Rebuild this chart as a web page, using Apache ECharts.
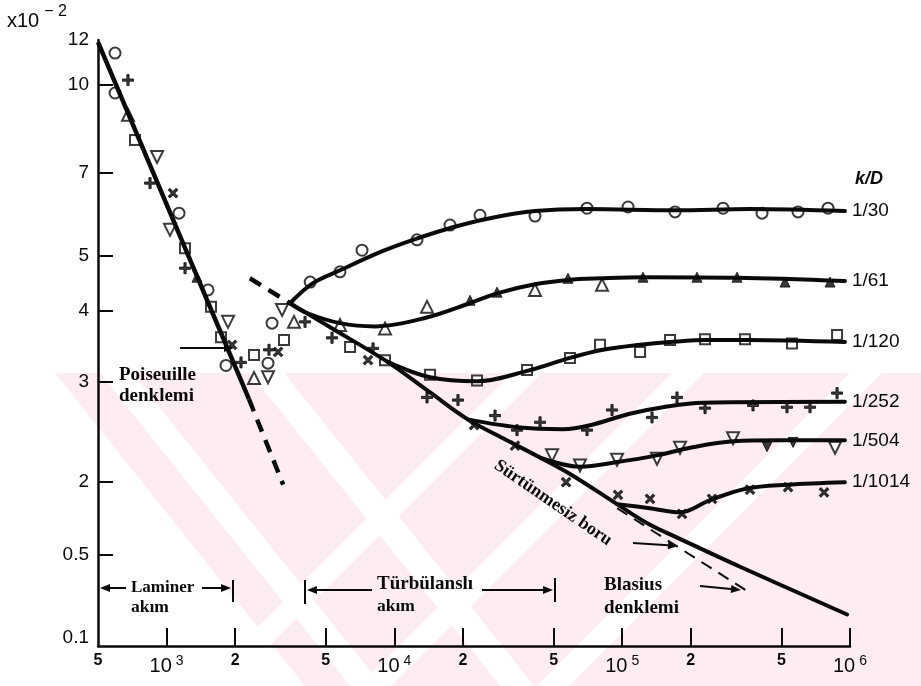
<!DOCTYPE html>
<html>
<head>
<meta charset="utf-8">
<title>Nikuradse – k/D</title>
<script src="https://cdn.jsdelivr.net/npm/echarts@6/dist/echarts.min.js"></script>
<style>
  html, body { margin: 0; padding: 0; background: #fff; }
  #chart { width: 921px; height: 686px; }
</style>
</head>
<body>
<div id="chart"></div>
<script>
// ---- Axis ticks ----
const xTickValues = [500, 1000, 2000, 5000, 10000, 20000, 50000, 100000, 200000, 500000, 1000000];
const xTickLabels = ['5', '10 3', '2', '5', '10 4', '2', '5', '10 5', '2', '5', '10 6'];
const yTickValues = [12, 10, 7, 5, 4, 3, 2, 1.49, 1.067];
const yTickLabels = ['12', '10', '7', '5', '4', '3', '2', '0.5', '0.1'];
const yTickMarks = [10, 7, 5, 4, 3, 2, 1.49];

// ---- Reference lines (Re, λ·10²) ----
const laminarSolid = [[500, 11.9], [2300, 2.8]];
const laminarDashed = [[2300, 2.8], [3250, 1.98]];
const smoothDashed = [[2320, 4.57], [3480, 4.13]];
const smoothPipe = [[3480, 4.13], [5270, 3.74], [9290, 3.26], [14300, 2.88], [21000, 2.58], [30000, 2.39],
  [43600, 2.21], [60000, 2.06], [94900, 1.83], [130000, 1.69], [179000, 1.59], [329000, 1.42], [971000, 1.17]];
const blasius = [[95000, 1.80], [350000, 1.29]];

// ---- Rough pipe curves ----
const r30Line = [[3480, 4.13], [4390, 4.48], [5770, 4.72], [8650, 5.08], [12070, 5.34], [18090, 5.62], [26290, 5.83],
  [41430, 6.00], [70100, 6.05], [170600, 6.02], [364100, 6.05], [950000, 6.00]];
const r61Line = [[3480, 4.13], [4135, 3.97], [5770, 3.81], [8225, 3.76], [13630, 3.89], [21460, 4.13], [28200, 4.30],
  [41400, 4.46], [57800, 4.54], [81500, 4.57], [123000, 4.59], [319000, 4.58], [950000, 4.52]];
const r120Line = [[9290, 3.26], [14340, 3.06], [23060, 3.01], [38220, 3.14], [59020, 3.31], [82390, 3.42],
  [119800, 3.49], [162200, 3.53], [235700, 3.56], [353200, 3.56], [950000, 3.53]];
const r252Line = [[21000, 2.58], [34540, 2.50], [55000, 2.48], [72200, 2.52], [108000, 2.64], [151000, 2.71],
  [226000, 2.76], [950000, 2.77]];
const r504Line = [[43600, 2.21], [65300, 2.13], [94900, 2.17], [142000, 2.23], [199000, 2.30], [307000, 2.36],
  [493000, 2.37], [950000, 2.37]];
const r1014Line = [[94900, 1.83], [132000, 1.80], [179000, 1.77], [243000, 1.86], [353000, 1.95], [529000, 1.98],
  [950000, 2.00]];

// ---- Measured points ----
const pts30 = [[594, 11.38], [594, 9.68], [1134, 5.95], [1520, 4.36], [1823, 3.21], [2788, 3.24], [2903, 3.81],
  [4270, 4.50], [5772, 4.69], [7210, 5.12], [12570, 5.34], [17550, 5.67], [23760, 5.90], [41430, 5.88],
  [70100, 6.07], [106100, 6.10], [170600, 5.98], [277100, 6.07], [411000, 5.95], [591400, 5.98], [801000, 6.07]];
const pts61 = [[677, 8.86], [2420, 3.05], [3626, 3.83], [5772, 3.78], [9096, 3.73], [13910, 4.07], [41430, 4.36],
  [81560, 4.45]];
const pts61Filled = [[1360, 4.59], [21480, 4.18], [28220, 4.32], [57830, 4.57], [123400, 4.59], [213000, 4.59],
  [319300, 4.59], [518400, 4.50], [817300, 4.50]];
const pts120 = [[727, 8.00], [1205, 5.16], [1567, 4.07], [1734, 3.60], [2420, 3.35], [3277, 3.56],
  [6388, 3.46], [9096, 3.28], [14340, 3.09], [23060, 3.02], [38220, 3.15], [59020, 3.31], [79930, 3.49],
  [119800, 3.39], [162200, 3.56], [231000, 3.57], [346100, 3.57], [556600, 3.51], [877400, 3.63]];
const pts252 = [[677, 10.2], [846, 6.72], [1205, 4.76], [2122, 3.25], [2816, 3.42], [4053, 3.83], [5324, 3.59],
  [8060, 3.44], [13910, 2.82], [19020, 2.79], [27660, 2.62], [34540, 2.47], [43590, 2.55], [70100, 2.47],
  [90240, 2.68], [135200, 2.60], [174000, 2.82], [231000, 2.70], [375200, 2.73], [529000, 2.71], [667500, 2.71],
  [877400, 2.87]];
const pts504 = [[908, 7.47], [1035, 5.56], [1861, 3.83], [2788, 3.06], [3212, 4.02], [49200, 2.23], [65290, 2.14],
  [94900, 2.19], [142200, 2.20], [179400, 2.30], [306600, 2.39], [859800, 2.30]];
const pts504Filled = [[432300, 2.31], [562300, 2.35]];
const pts1014 = [[1067, 6.45], [1938, 3.49], [3085, 3.39], [7661, 3.28], [22370, 2.52], [33850, 2.32],
  [56690, 2.00], [95860, 1.90], [132500, 1.87], [183100, 1.76], [248000, 1.87], [364100, 1.94], [534600, 1.96],
  [769100, 1.92]];

const seriesNames = ['1/30', '1/61', '1/120', '1/252', '1/504', '1/1014'];

// ---- Styles ----
const INK = '#0a0a0a';
const SANS = '"Liberation Sans", Arial, Helvetica, sans-serif';
const SERIF = '"Liberation Serif", "Times New Roman", serif';
const CROSS = 'path://M4,0H6V4H10V6H6V10H4V6H0V4H4Z';
const openMark = { color: '#fff', borderColor: INK, borderWidth: 2 };
const solidMark = { color: INK, borderColor: INK, borderWidth: 1 };
const TINT = '#fdedf0';

function nearestLabel(values, labels, v) {
  let best = 0;
  for (let i = 1; i < values.length; i++) {
    if (Math.abs(Math.log(values[i]) - Math.log(v)) < Math.abs(Math.log(values[best]) - Math.log(v))) best = i;
  }
  return labels[best];
}

function curve(name, data, opts) {
  return Object.assign({
    name: name, type: 'line', data: data, symbol: 'none', smooth: 0.35, z: 4,
    lineStyle: { color: INK, width: 4, cap: 'round', join: 'round' },
    silent: true, animation: false
  }, opts || {});
}
function endTag(name) {
  return { show: true, formatter: name, distance: 7, color: INK, fontSize: 19, fontFamily: SANS };
}
function marks(name, data, symbol, style, size, rotate) {
  return {
    name: name, type: 'scatter', data: data, symbol: symbol, symbolSize: size,
    symbolRotate: rotate || 0, itemStyle: style, z: 3, silent: true, animation: false
  };
}

// ---- Annotation helpers ----
function arrow(x1, y1, x2, y2) {
  const a = Math.atan2(y2 - y1, x2 - x1), L = 10, W = 4;
  const bx = x2 - L * Math.cos(a), by = y2 - L * Math.sin(a);
  return [
    { type: 'line', z: 10, shape: { x1: x1, y1: y1, x2: bx, y2: by }, style: { stroke: INK, lineWidth: 2 } },
    { type: 'polygon', z: 10, shape: { points: [[x2, y2], [bx - W * Math.sin(a), by + W * Math.cos(a)], [bx + W * Math.sin(a), by - W * Math.cos(a)]] },
      style: { fill: INK } }
  ];
}
function bar(x, y1, y2) {
  return { type: 'line', z: 10, shape: { x1: x, y1: y1, x2: x, y2: y2 }, style: { stroke: INK, lineWidth: 2 } };
}
function note(text, x, y, size) {
  return {
    type: 'text', z: 10, x: x, y: y,
    style: { text: text, fill: INK, fontSize: size || 18, fontFamily: SERIF, fontWeight: 'bold',
      align: 'left', verticalAlign: 'middle' }
  };
}
// faint background tint with diagonal white stripes
function quad(pts, fill) {
  return { type: 'polygon', z: -6, silent: true, shape: { points: pts }, style: { fill: fill } };
}
function stripe(xTop, width, slope) {
  const y0 = 373, y1 = 686, d = slope * (y1 - y0);
  return quad([[xTop, y0], [xTop + width, y0], [xTop + width + d, y1], [xTop + d, y1]], '#fff');
}
const backdrop = [
  quad([[55, 373], [921, 373], [921, 686], [305, 686]], TINT),
  stripe(100, 32, 0.8), stripe(250, 34, 0.8),
  stripe(512, 30, -1), stripe(672, 32, -1), stripe(850, 32, -1)
];

const graphics = [].concat(
  backdrop,
  [
    { type: 'text', z: 10, x: 7, y: 2, style: { text: '{a|x10}{b|− 2}', fill: INK,
      rich: { a: { fontSize: 20, fontFamily: SANS, padding: [9, 0, 0, 0] }, b: { fontSize: 16, fontFamily: SANS, padding: [0, 0, 9, 5] } } } },
    { type: 'text', z: 10, x: 855, y: 179, style: { text: 'k/D', fill: INK, fontSize: 18, fontFamily: SANS,
      fontStyle: 'italic', fontWeight: 'bold', verticalAlign: 'middle' } },
    note('Poiseuille', 119, 375, 19), note('denklemi', 119, 396, 19),
    note('Laminer', 131, 588, 17), note('akım', 131, 607, 17.5),
    note('Türbülanslı', 377, 584, 19), note('akım', 377, 606, 17.5),
    note('Blasius', 604, 585, 19), note('denklemi', 604, 608, 19),
    { type: 'text', z: 10, x: 553, y: 503, rotation: -0.6,
      style: { text: 'Sürtünmesiz boru', fill: INK, fontSize: 18, fontFamily: SERIF, fontWeight: 'bold',
        align: 'center', verticalAlign: 'middle' } }
  ],
  arrow(180, 348, 234, 348),
  arrow(126, 588, 100, 588), arrow(202, 588, 231, 588), bar(233, 580, 602),
  bar(305, 580, 604), arrow(372, 590, 307, 590), arrow(482, 590, 553, 590), bar(555, 578, 602),
  arrow(700, 586, 741, 590),
  arrow(633, 543, 678, 546)
);

const chart = echarts.init(document.getElementById('chart'), null, { renderer: 'canvas' });
chart.setOption({
  backgroundColor: '#fff',
  animation: false,
  grid: { left: 98, right: 71, top: 40, bottom: 40, containLabel: false },
  xAxis: {
    type: 'log', logBase: 10, min: 500, max: 1000000,
    axisLine: { show: true, lineStyle: { color: INK, width: 2.5 } },
    axisTick: { show: true, inside: true, length: 18, customValues: xTickValues.slice(1), lineStyle: { color: INK, width: 2 } },
    axisLabel: {
      show: true, margin: 6, customValues: xTickValues, color: INK,
      formatter: function (v) {
        const t = nearestLabel(xTickValues, xTickLabels, v);
        const parts = t.split(' ');
        return parts.length > 1 ? '{p|' + parts[0] + '}{s|' + parts[1] + '}' : '{m|' + t + '}';
      },
      rich: {
        m: { fontSize: 16, fontWeight: 'bold', fontFamily: SANS, lineHeight: 17, color: INK },
        p: { fontSize: 20, fontFamily: SANS, lineHeight: 20, padding: [9, 0, 0, 0], color: INK },
        s: { fontSize: 14, fontFamily: SANS, lineHeight: 14, verticalAlign: 'top', padding: [2, 0, 0, 4], color: INK }
      }
    },
    splitLine: { show: false }, minorTick: { show: false }, minorSplitLine: { show: false }
  },
  yAxis: {
    type: 'log', logBase: 10, min: 1.03, max: 12,
    axisLine: { show: true, lineStyle: { color: INK, width: 2.5 } },
    axisTick: { show: true, inside: true, length: 15, customValues: yTickMarks, lineStyle: { color: INK, width: 2 } },
    axisLabel: {
      show: true, margin: 9, customValues: yTickValues, color: INK, fontSize: 19, fontFamily: SANS,
      formatter: function (v) { return nearestLabel(yTickValues, yTickLabels, v); }
    },
    splitLine: { show: false }, minorTick: { show: false }, minorSplitLine: { show: false }
  },
  graphic: { elements: graphics },
  series: [
    marks('p30', pts30, 'circle', openMark, 11),
    marks('p61', pts61, 'triangle', openMark, 12),
    marks('p61f', pts61Filled, 'triangle', solidMark, 10),
    marks('p120', pts120, 'rect', openMark, 10),
    marks('p252', pts252, CROSS, solidMark, 11),
    marks('p504', pts504, 'triangle', openMark, 12, 180),
    marks('p504f', pts504Filled, 'triangle', solidMark, 10, 180),
    marks('p1014', pts1014, CROSS, solidMark, 11, 45),
    curve('laminar', laminarSolid, { smooth: false, lineStyle: { color: INK, width: 4.5 } }),
    curve('laminarExt', laminarDashed, { smooth: false, lineStyle: { color: INK, width: 4.5, type: [13, 9] } }),
    curve('smoothExt', smoothDashed, { smooth: false, lineStyle: { color: INK, width: 4.5, type: [13, 9] } }),
    curve('smooth', smoothPipe),
    curve('blasius', blasius, { smooth: false, lineStyle: { color: INK, width: 2, type: [12, 8] } }),
    curve(seriesNames[0], r30Line, { endLabel: endTag(seriesNames[0]) }),
    curve(seriesNames[1], r61Line, { endLabel: endTag(seriesNames[1]) }),
    curve(seriesNames[2], r120Line, { endLabel: endTag(seriesNames[2]) }),
    curve(seriesNames[3], r252Line, { endLabel: endTag(seriesNames[3]) }),
    curve(seriesNames[4], r504Line, { endLabel: endTag(seriesNames[4]) }),
    curve(seriesNames[5], r1014Line, { endLabel: endTag(seriesNames[5]) })
  ]
});
</script>
</body>
</html>
